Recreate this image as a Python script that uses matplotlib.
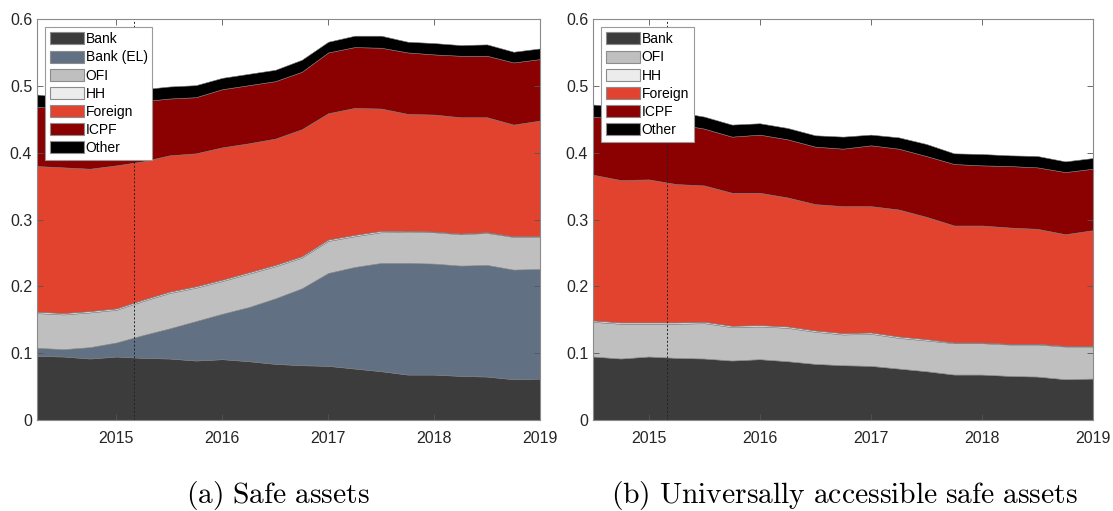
import numpy as np
import matplotlib
matplotlib.use("Agg")
import matplotlib.pyplot as plt
from matplotlib.patches import Patch

plt.rcParams['font.family'] = ['Liberation Sans', 'DejaVu Sans']
plt.rcParams['mathtext.fontset'] = 'cm'

# Quarterly observations, 2014Q2 .. 2019Q1 (shares of total)
quarters = [2014.25, 2014.5, 2014.75, 2015.0, 2015.25, 2015.5, 2015.75, 2016.0,
            2016.25, 2016.5, 2016.75, 2017.0, 2017.25, 2017.5, 2017.75, 2018.0,
            2018.25, 2018.5, 2018.75, 2019.0]

bank = [0.096, 0.095, 0.092, 0.095, 0.093, 0.092, 0.089, 0.091, 0.088, 0.084,
        0.082, 0.081, 0.077, 0.073, 0.068, 0.068, 0.066, 0.065, 0.061, 0.062]
bank_el = [0.012, 0.011, 0.017, 0.021, 0.034, 0.045, 0.059, 0.068, 0.081, 0.098,
           0.115, 0.139, 0.152, 0.162, 0.167, 0.166, 0.165, 0.167, 0.164, 0.164]
ofi = [0.052, 0.052, 0.052, 0.049, 0.051, 0.053, 0.050, 0.049, 0.050, 0.048,
       0.046, 0.048, 0.046, 0.046, 0.047, 0.047, 0.047, 0.048, 0.049, 0.048]
hh = [0.002, 0.002, 0.002, 0.002, 0.002, 0.002, 0.002, 0.002, 0.002, 0.002,
      0.002, 0.002, 0.002, 0.002, 0.001, 0.001, 0.001, 0.001, 0.001, 0.001]
foreign = [0.218, 0.218, 0.213, 0.214, 0.207, 0.204, 0.199, 0.198, 0.193, 0.189,
           0.190, 0.189, 0.190, 0.183, 0.175, 0.175, 0.174, 0.172, 0.167, 0.173]
icpf = [0.089, 0.087, 0.091, 0.091, 0.090, 0.085, 0.084, 0.087, 0.087, 0.086,
        0.086, 0.091, 0.091, 0.091, 0.092, 0.090, 0.092, 0.092, 0.093, 0.092]
other = [0.018, 0.018, 0.019, 0.018, 0.018, 0.018, 0.018, 0.017, 0.017, 0.017,
         0.018, 0.016, 0.017, 0.018, 0.016, 0.017, 0.016, 0.017, 0.016, 0.016]

pspp_start = 2015.17
year_ticks = [2015, 2016, 2017, 2018, 2019]
share_ticks = [0, 0.1, 0.2, 0.3, 0.4, 0.5, 0.6]

colors = {
    'Bank': '#3c3c3c',
    'Bank (EL)': '#627083',
    'OFI': '#bfbfbf',
    'HH': '#ececec',
    'Foreign': '#e2432f',
    'ICPF': '#8b0000',
    'Other': '#000000',
}


def stacked(ax, layers, x0, caption, caption_x):
    x = np.array(quarters)
    base = np.zeros_like(x)
    handles = []
    for name, vals in layers:
        top = base + np.array(vals)
        ax.fill_between(x, base, top, facecolor=colors[name],
                        edgecolor='#7a7a7a', linewidth=0.4)
        handles.append(Patch(facecolor=colors[name], edgecolor='#8c8c8c',
                             linewidth=0.8, label=name))
        base = top
    ax.axvline(pspp_start, color='#222222', linestyle=(0, (2, 2)), linewidth=0.7)
    ax.set_xlim(x0, 2019)
    ax.set_ylim(0, 0.6)
    ax.set_xticks(year_ticks)
    ax.set_yticks(share_ticks)
    ax.set_yticklabels(['0', '0.1', '0.2', '0.3', '0.4', '0.5', '0.6'])
    ax.tick_params(direction='in', top=True, right=True, length=4,
                   width=0.6, color='#555555', labelsize=11.5,
                   labelcolor='#262626')
    ax.tick_params(axis='x', pad=8)
    for s in ax.spines.values():
        s.set_color('#8a8a8a')
        s.set_linewidth(0.8)
    leg = ax.legend(handles=handles, loc='upper left', fontsize=10,
                    handlelength=2.4, handleheight=0.95, handletextpad=0.15,
                    labelspacing=0.3, borderpad=0.35, borderaxespad=0.6,
                    fancybox=False, framealpha=1)
    leg.get_frame().set_edgecolor('#9a9a9a')
    leg.get_frame().set_linewidth(0.8)
    ax.figure.text(caption_x, 0.031, caption, ha='center', va='center',
                   fontsize=21.3)


fig = plt.figure(figsize=(11.13, 5.11), dpi=100)
ax1 = fig.add_axes([37 / 1113, 91 / 511, 503 / 1113, 401 / 511])
ax2 = fig.add_axes([593 / 1113, 91 / 511, 500 / 1113, 401 / 511])

stacked(ax1, [('Bank', bank), ('Bank (EL)', bank_el), ('OFI', ofi), ('HH', hh),
              ('Foreign', foreign), ('ICPF', icpf), ('Other', other)],
        2014.25, r'$\mathrm{(a)\ Safe\ assets}$', 278 / 1113)
stacked(ax2, [('Bank', bank), ('OFI', ofi), ('HH', hh),
              ('Foreign', foreign), ('ICPF', icpf), ('Other', other)],
        2014.5, r'$\mathrm{(b)\ Universally\ accessible\ safe\ assets}$',
        844 / 1113)

fig.savefig('out.png', dpi=100)
